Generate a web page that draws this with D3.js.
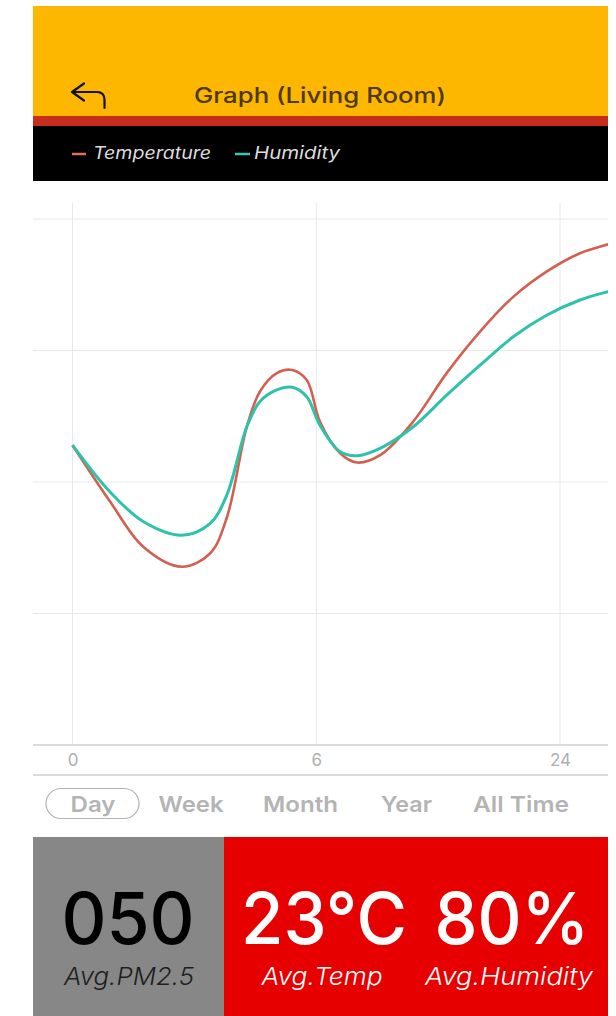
<!DOCTYPE html>
<html><head><meta charset="utf-8">
<script src="https://cdn.jsdelivr.net/npm/d3@7"></script>
<style>html,body{margin:0;padding:0;background:#fff;}svg{display:block;}</style>
</head><body><svg id="c" width="616" height="1016"></svg>
<script>
// ---- data ----
const tickLabels = ["0", "6", "24"];
const tickPos = [0, 1, 2];
const samplePos = [0, 0.154, 0.290, 0.448, 0.564, 0.633, 0.715, 0.769, 0.838, 0.901, 0.961, 1.015, 1.097, 1.167, 1.262, 1.398, 1.535, 1.672, 1.808, 1.945, 2.082, 2.198, 2.328];
const temperature = [57.0, 46.3, 37.7, 33.9, 36.4, 43.2, 60.5, 67.2, 70.7, 71.3, 69.4, 61.5, 55.5, 53.7, 55.1, 61.5, 70.7, 78.6, 85.2, 90.0, 93.5, 95.2, 96.8];
const humidity = [57.0, 48.1, 42.5, 39.9, 42.1, 47.5, 60.5, 65.3, 67.5, 68.0, 66.2, 60.8, 55.8, 55.0, 56.4, 60.5, 66.5, 72.2, 77.6, 81.7, 84.6, 86.2, 87.6];
const yTicks = [0, 25, 50, 75, 100];
const seriesNames = ["Temperature", "Humidity"];
const periods = ["Day", "Week", "Month", "Year", "All Time"];
const summaryValues = ["050", "23°C", "80%"];
const summaryLabels = ["Avg.PM2.5", "Avg.Temp", "Avg.Humidity"];

const FONT = "Inter, 'Open Sans', sans-serif";
const svg = d3.select("#c");

function txt(x, y, s, o) {
  const t = svg.append("text").attr("x", x).attr("y", y).text(s)
    .attr("font-family", FONT).attr("font-size", o.size).attr("fill", o.fill)
    .attr("text-anchor", o.anchor || "start");
  if (o.weight) t.attr("font-weight", o.weight);
  if (o.italic) t.attr("font-style", "italic");
  if (o.len) t.attr("textLength", o.len).attr("lengthAdjust", o.adj || "spacingAndGlyphs");
  return t;
}

// ---- header ----
svg.append("rect").attr("x", 33).attr("y", 6).attr("width", 575).attr("height", 110).attr("fill", "#fdb700");
svg.append("rect").attr("x", 33).attr("y", 116).attr("width", 575).attr("height", 10).attr("fill", "#c62d1c");
svg.append("rect").attr("x", 33).attr("y", 126).attr("width", 575).attr("height", 55).attr("fill", "#000");
svg.append("path").attr("d", "M72,92 L84,83.5 M72,92 L84,100.5 M72,92 H97 Q104.5,92 104.5,100 V108")
  .attr("fill", "none").attr("stroke", "#111").attr("stroke-width", 2.2).attr("stroke-linecap", "round").attr("stroke-linejoin", "round");
txt(320, 103, "Graph (Living Room)", {size: 21, fill: "#4d3800", weight: 500, anchor: "middle", len: 252});

// legend
const legendColors = ["#e0705f", "#35c9b2"];
const legendX = [[72, 86, 93, 118], [235, 250, 254, 86]];
seriesNames.forEach((n, i) => {
  const L = legendX[i];
  svg.append("line").attr("x1", L[0]).attr("x2", L[1]).attr("y1", 154).attr("y2", 154)
    .attr("stroke", legendColors[i]).attr("stroke-width", 2.5);
  txt(L[2], 159, n, {size: 17, fill: "#dcdcdc", italic: true, len: L[3]});
});

// ---- chart ----
const x = d3.scaleLinear().domain([0, 2]).range([72.5, 560]);
const y = d3.scaleLinear().domain([0, 100]).range([745, 219]);

const grid = svg.append("g");
yTicks.slice(1).forEach(v => {
  grid.append("line").attr("x1", 33).attr("x2", 608).attr("y1", y(v)).attr("y2", y(v))
    .attr("stroke", "#e8e8e8").attr("stroke-width", 1);
});
tickPos.forEach(p => {
  grid.append("line").attr("x1", x(p)).attr("x2", x(p)).attr("y1", 203).attr("y2", 745)
    .attr("stroke", "#e8e8e8").attr("stroke-width", 1);
});

svg.append("defs").append("clipPath").attr("id", "clip")
  .append("rect").attr("x", 33).attr("y", 190).attr("width", 575).attr("height", 560);

const line = d3.line().x(d => x(d[0])).y(d => y(d[1])).curve(d3.curveCatmullRom.alpha(0.5));
const lg = svg.append("g").attr("clip-path", "url(#clip)");
lg.append("path").datum(samplePos.map((p, i) => [p, temperature[i]]))
  .attr("d", line).attr("fill", "none").attr("stroke", "#d3604f").attr("stroke-width", 2.6);
lg.append("path").datum(samplePos.map((p, i) => [p, humidity[i]]))
  .attr("d", line).attr("fill", "none").attr("stroke", "#2fc2ab").attr("stroke-width", 3);

// axes lines
svg.append("line").attr("x1", 33).attr("x2", 608).attr("y1", 745).attr("y2", 745).attr("stroke", "#cfcfcf").attr("stroke-width", 1.5);
svg.append("line").attr("x1", 33).attr("x2", 608).attr("y1", 775).attr("y2", 775).attr("stroke", "#cfcfcf").attr("stroke-width", 1.5);

const xAxis = d3.axisBottom(x).tickValues(tickPos).tickFormat((d, i) => tickLabels[i]).tickSize(0).tickPadding(0);
const ax = svg.append("g").attr("transform", "translate(0,753)").call(xAxis);
ax.select(".domain").remove();
ax.selectAll("text").attr("font-family", FONT).attr("font-size", 17).attr("fill", "#b0b0b0").attr("dy", "0.78em");

// period buttons
const periodCenters = [93, 191, 300.5, 406.5, 521];
const periodWidths = [45, 65, 75, 51, 96];
svg.append("rect").attr("x", 46).attr("y", 788.5).attr("width", 93).attr("height", 30).attr("rx", 15)
  .attr("fill", "none").attr("stroke", "#b3b3b3").attr("stroke-width", 1.2);
periods.forEach((p, i) => {
  txt(periodCenters[i], 812, p, {size: 22, fill: "#b4b4b4", weight: 600, anchor: "middle", len: periodWidths[i]});
});

// ---- summary ----
svg.append("rect").attr("x", 33).attr("y", 837).attr("width", 191).attr("height", 179).attr("fill", "#878787");
svg.append("rect").attr("x", 224).attr("y", 837).attr("width", 384).attr("height", 179).attr("fill", "#e60000");
const sumCenters = [128, 324, 512];
const sumWidths = [133, 166, 155];
const subWidths = [130, 121, 168];
const subCenters = [129, 322, 509];
summaryValues.forEach((v, i) => {
  txt(sumCenters[i], 944, v, {size: 72, fill: i === 0 ? "#000" : "#fff", weight: 500, anchor: "middle", len: sumWidths[i]});
  txt(subCenters[i], 985, summaryLabels[i], {size: 24, fill: i === 0 ? "#1e1e1e" : "#fff", weight: 300, italic: true, anchor: "middle", len: subWidths[i]});
});
</script></body></html>
